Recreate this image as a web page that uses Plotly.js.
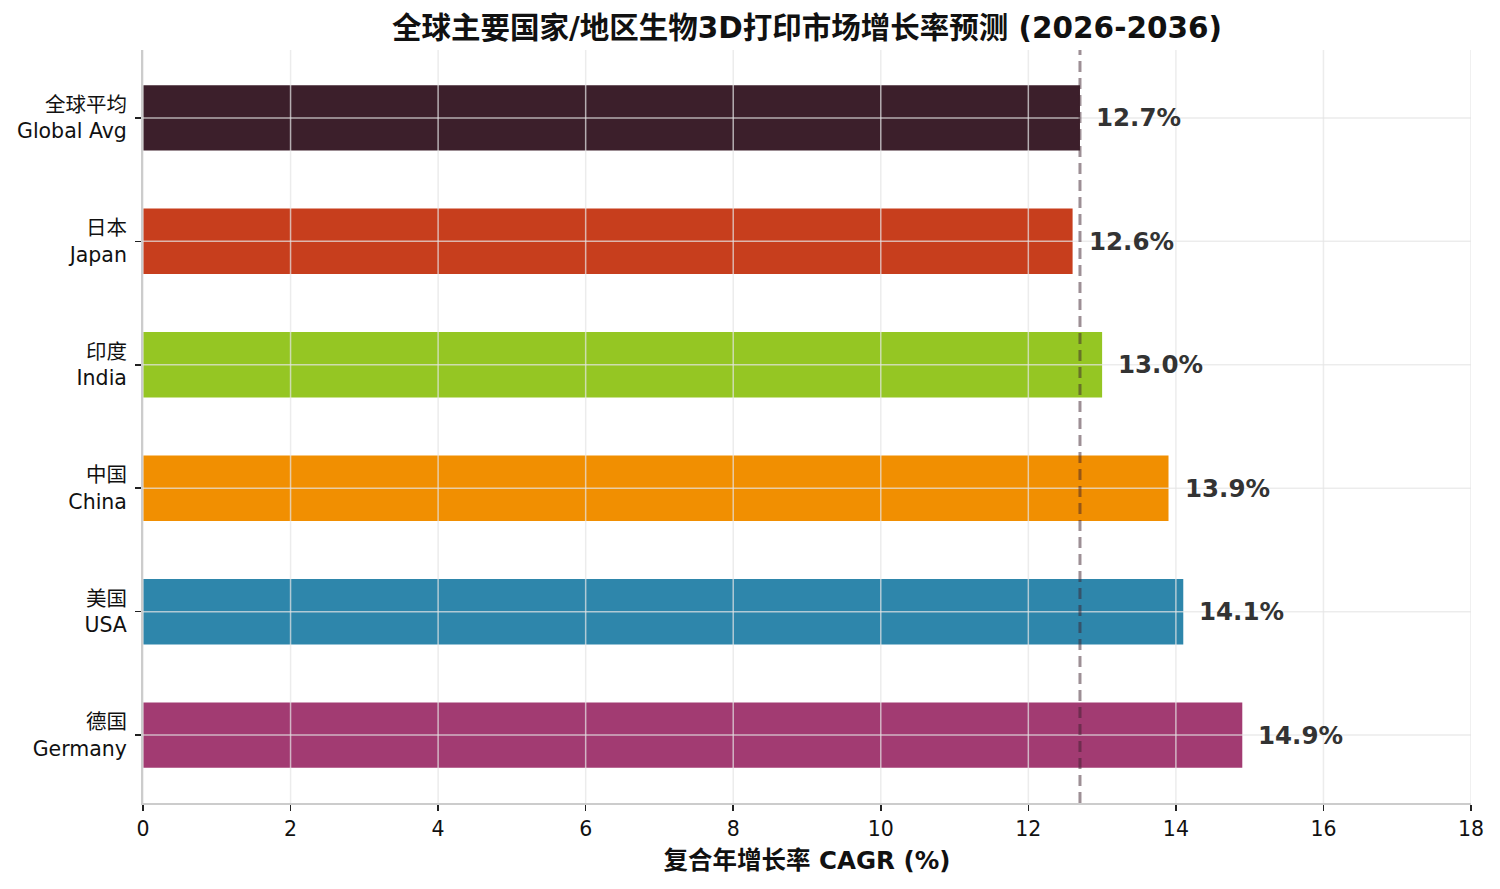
<!DOCTYPE html>
<html>
<head>
<meta charset="utf-8">
<script src="https://cdn.plot.ly/plotly-3.0.1.min.js"></script>
<style>body{margin:0;background:#fff}#chart{width:1500px;height:889px}</style>
</head>
<body>
<div id="chart"></div>
<script>
// bottom to top, as drawn
var labels = ['德国<br>Germany', '美国<br>USA', '中国<br>China', '印度<br>India', '日本<br>Japan', '全球平均<br>Global Avg'];
var cagr = [14.9, 14.1, 13.9, 13.0, 12.6, 12.7];
var colors = ['#A23B72', '#2E86AB', '#F18F01', '#95C623', '#C73E1D', '#3C1F2B'];
var globalAvg = 12.7;
var xTicks = [0, 2, 4, 6, 8, 10, 12, 14, 16, 18];

var font = 'DejaVu Sans, Noto Sans CJK SC, sans-serif';
var gridColor = 'rgba(228,228,228,0.72)';

var trace = {
  type: 'bar',
  orientation: 'h',
  x: cagr,
  y: labels,
  width: 0.53,
  marker: {color: colors, line: {width: 0}},
  hoverinfo: 'skip'
};

// grid drawn over the bars
var shapes = [];
xTicks.forEach(function (t) {
  shapes.push({type: 'line', xref: 'x', yref: 'paper', x0: t, x1: t, y0: 0, y1: 1,
    line: {color: gridColor, width: 1.5}, layer: 'above'});
});
labels.forEach(function (c) {
  shapes.push({type: 'line', xref: 'paper', yref: 'y', x0: 0, x1: 1, y0: c, y1: c,
    line: {color: gridColor, width: 1.5}, layer: 'above'});
});
shapes.push({type: 'line', xref: 'x', yref: 'paper', x0: globalAvg, x1: globalAvg, y0: 0, y1: 1,
  line: {color: 'rgba(59,31,43,0.5)', width: 3, dash: '11px,6px'}, layer: 'above'});

var annotations = cagr.map(function (v, i) {
  return {x: v, y: labels[i], xref: 'x', yref: 'y', text: v.toFixed(1) + '%',
    showarrow: false, xanchor: 'left', xshift: 14,
    font: {family: font, size: 24.5, color: '#333333', weight: 'bold'}};
});

var layout = {
  width: 1500, height: 889,
  margin: {l: 143, r: 29, t: 50, b: 86},
  paper_bgcolor: '#fff', plot_bgcolor: '#fff',
  font: {family: font, size: 20.5, color: '#111'},
  showlegend: false,
  title: {text: '<b>全球主要国家/地区生物3D打印市场增长率预测 (2026-2036)</b>',
    x: 0.538, xanchor: 'center', y: 0.969, yanchor: 'middle',
    font: {family: font, size: 29.5, color: '#111'}},
  xaxis: {
    range: [0, 18], tickvals: xTicks, showgrid: false, zeroline: false,
    showline: true, linecolor: '#cccccc', linewidth: 2,
    ticks: 'outside', ticklen: 6, tickwidth: 1.5, tickcolor: '#222',
    tickfont: {size: 20.5, color: '#111'},
    title: {text: '<b>复合年增长率 CAGR (%)</b>', standoff: 12, font: {size: 24.5, color: '#111'}}
  },
  yaxis: {
    range: [-0.55, 5.55], showgrid: false, zeroline: false,
    showline: true, linecolor: '#cccccc', linewidth: 2,
    ticks: 'outside', ticklen: 6, tickwidth: 1.5, tickcolor: '#222',
    ticklabelstandoff: 4,
    tickfont: {size: 20.5, color: '#111'}
  },
  shapes: shapes,
  annotations: annotations
};

Plotly.newPlot('chart', [trace], layout, {displayModeBar: false, staticPlot: true});
</script>
</body>
</html>
